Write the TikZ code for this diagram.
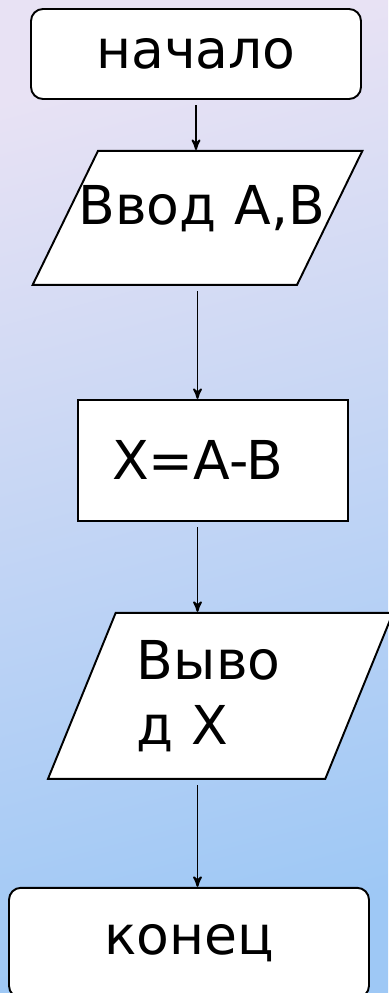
\documentclass[tikz,border=0pt]{standalone}
\usepackage{fontspec}
\setmainfont{DejaVu Sans}
\usepackage{tikz}
\usetikzlibrary{arrows,positioning,shapes.geometric}
\definecolor{bgtop}{RGB}{232,226,244}
\definecolor{bgbot}{RGB}{158,200,245}
\tikzset{
    %Define standard arrow tip
    >=stealth',
    font=\fontsize{30.5}{37}\selectfont,
    %Define style for start and end
    endpunkt/.style={
           rectangle,
           rounded corners=0.24cm,
           draw=black, line width=1.1pt,
           fill=white,
           minimum width=6.6cm,
           minimum height=1.8cm,
           text centered},
    %Define style for input and output
    eingabe/.style={
           trapezium,
           trapezium stretches body,
           draw=black, line width=1.1pt,
           fill=white,
           inner xsep=0pt},
    %Define style for the process box
    block/.style={
           rectangle,
           draw=black, line width=1.1pt,
           fill=white,
           minimum width=5.4cm,
           minimum height=2.42cm},
    % Define arrow style
    pfeil/.style={
	   ->,
	   >=stealth',
	   shorten <=3pt,
           line width=1.1pt}
}

\begin{document}
\begin{tikzpicture}
  \useasboundingbox (0,0) rectangle (7.76,-19.86);
  % background
  \shade[shading=axis,top color=bgtop,bottom color=bgbot,shading angle=15]
    (0,0) rectangle (7.76,-19.86);
  \node[endpunkt] (anfang) at (3.92,-1.08) {начало};
  \node[eingabe,trapezium left angle=64,trapezium right angle=116,
        minimum width=6.58cm,minimum height=2.68cm,
        text width=5.1cm,align=right,inner xsep=-0.56cm,
        text height=0.64cm,text depth=0.36cm,inner ysep=0.84cm]
        (eingabeAB) [below=1.0cm of anfang,xshift=0.03cm] {Ввод A,B};
  \node[block,align=left,text width=4.04cm,inner xsep=0.68cm]
        (rechnung) [below=2.26cm of eingabeAB,xshift=0.31cm] {X=A-B};
  \node[eingabe,trapezium left angle=67,trapezium right angle=113,
        minimum width=6.9cm,minimum height=3.32cm,inner ysep=0.48cm,
        align=left,text width=3.34cm]
        (ausgabeX) [below=1.8cm of rechnung,xshift=0.15cm] {Выво\\д X};
  \node[endpunkt,minimum width=7.2cm,minimum height=2.2cm]
        (ende) [below=2.14cm of ausgabeX,xshift=-0.63cm] {конец};
  \draw[pfeil] (anfang.south) -- (anfang.south |- eingabeAB.north);
  \draw[pfeil] (eingabeAB.south) -- (eingabeAB.south |- rechnung.north);
  \draw[pfeil] (eingabeAB.south |- rechnung.south) -- (eingabeAB.south |- ausgabeX.north);
  \draw[pfeil] (eingabeAB.south |- ausgabeX.south) -- (eingabeAB.south |- ende.north);
\end{tikzpicture}
\end{document}
